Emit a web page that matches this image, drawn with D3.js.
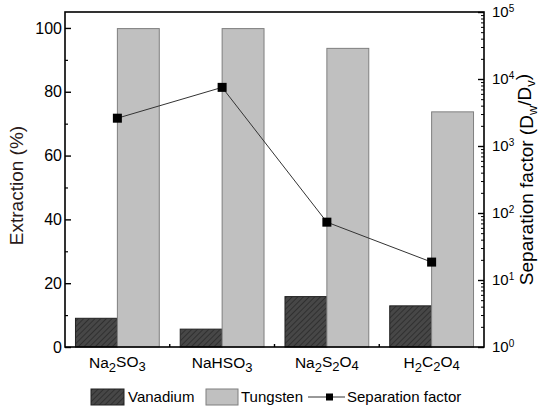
<!DOCTYPE html>
<html>
<head>
<meta charset="utf-8">
<script src="https://cdn.jsdelivr.net/npm/d3@7"></script>
<style>
  html, body { margin: 0; padding: 0; background: #fff; }
  svg { display: block; font-family: "Liberation Sans", Arial, sans-serif; }
</style>
</head>
<body>
<svg id="chart" width="542" height="409"></svg>
<script>
// Reagents (digits are drawn as subscripts)
const categories = ["Na2SO3", "NaHSO3", "Na2S2O4", "H2C2O4"];
const vanadium = [9.0, 5.6, 15.8, 12.9];        // extraction, %
const tungsten = [99.8, 99.8, 93.6, 73.7];      // extraction, %
const separation = [2600, 7500, 73, 18.5];      // D_w / D_v
const leftTicks = [0, 20, 40, 60, 80, 100];
const rightTicks = [1, 10, 100, 1000, 10000, 100000];

const svg = d3.select("#chart");
const m = { left: 65, right: 484, top: 12, bottom: 347 };

const x = d3.scaleBand().domain(categories).range([m.left, m.right]).paddingInner(0).paddingOuter(0);
const y = d3.scaleLinear().domain([0, 105]).range([m.bottom, m.top]);
const yr = d3.scaleLog().domain([1, 1e5]).range([m.bottom, m.top]);
const barW = x.bandwidth() * 0.4;

// hatch for vanadium bars
const defs = svg.append("defs");
const pat = defs.append("pattern").attr("id", "hatch").attr("patternUnits", "userSpaceOnUse")
  .attr("width", 4).attr("height", 4).attr("patternTransform", "rotate(45)");
pat.append("rect").attr("width", 4).attr("height", 4).attr("fill", "#474747");
pat.append("line").attr("x1", 0).attr("y1", 0).attr("x2", 0).attr("y2", 4)
  .attr("stroke", "#262626").attr("stroke-width", 1.4);

// Bars
const g = svg.append("g");
g.selectAll("rect.v").data(categories).join("rect").attr("class", "v")
  .attr("x", d => x(d) + x.bandwidth() / 2 - barW)
  .attr("y", (d, i) => y(vanadium[i]))
  .attr("width", barW)
  .attr("height", (d, i) => y(0) - y(vanadium[i]))
  .attr("fill", "url(#hatch)").attr("stroke", "#222").attr("stroke-width", 1);
g.selectAll("rect.w").data(categories).join("rect").attr("class", "w")
  .attr("x", d => x(d) + x.bandwidth() / 2)
  .attr("y", (d, i) => y(tungsten[i]))
  .attr("width", barW)
  .attr("height", (d, i) => y(0) - y(tungsten[i]))
  .attr("fill", "#c0c0c0").attr("stroke", "#7f7f7f").attr("stroke-width", 1);

// Separation factor line + markers
const line = d3.line().x(d => x(d[0]) + x.bandwidth() / 2).y(d => yr(d[1]));
const pts = categories.map((c, i) => [c, separation[i]]);
svg.append("path").datum(pts).attr("d", line).attr("fill", "none")
  .attr("stroke", "#333").attr("stroke-width", 1);
svg.selectAll("rect.p").data(pts).join("rect").attr("class", "p")
  .attr("x", d => x(d[0]) + x.bandwidth() / 2 - 4.5)
  .attr("y", d => yr(d[1]) - 4.5)
  .attr("width", 9).attr("height", 9).attr("fill", "#000");

// Frame
svg.append("rect").attr("x", m.left).attr("y", m.top)
  .attr("width", m.right - m.left).attr("height", m.bottom - m.top)
  .attr("fill", "none").attr("stroke", "#000").attr("stroke-width", 1.6);

// Left axis (ticks pointing inward)
svg.append("g").attr("transform", `translate(${m.left},0)`)
  .call(d3.axisRight(y).tickValues(leftTicks).tickSize(6).tickFormat(""))
  .call(s => s.select(".domain").remove())
  .call(s => s.selectAll("line").attr("stroke-width", 1.4));
svg.append("g").attr("transform", `translate(${m.left},0)`)
  .call(d3.axisRight(y).tickValues([10, 30, 50, 70, 90]).tickSize(3).tickFormat(""))
  .call(s => s.select(".domain").remove())
  .call(s => s.selectAll("line").attr("stroke-width", 1.2));
svg.append("g").selectAll("text").data(leftTicks).join("text")
  .attr("x", m.left - 3).attr("y", d => y(d)).attr("dy", "0.35em")
  .attr("text-anchor", "end").attr("font-size", 16).attr("fill", "#000")
  .text(d => d);

// Right log axis (ticks pointing inward)
const minor = [];
for (let e = 0; e < 5; e++) for (let k = 2; k <= 9; k++) minor.push(k * Math.pow(10, e));
svg.append("g").attr("transform", `translate(${m.right},0)`)
  .call(d3.axisLeft(yr).tickValues(rightTicks).tickSize(6).tickFormat(""))
  .call(s => s.select(".domain").remove())
  .call(s => s.selectAll("line").attr("stroke-width", 1.4));
svg.append("g").attr("transform", `translate(${m.right},0)`)
  .call(d3.axisLeft(yr).tickValues(minor).tickSize(3).tickFormat(""))
  .call(s => s.select(".domain").remove())
  .call(s => s.selectAll("line").attr("stroke-width", 1));
const rl = svg.append("g").selectAll("text").data(rightTicks).join("text")
  .attr("x", m.right + 8).attr("y", d => yr(d)).attr("dy", "0.35em")
  .attr("font-size", 15).attr("fill", "#000");
rl.append("tspan").text("10");
rl.append("tspan").attr("dy", "-0.5em").attr("font-size", 10).text(d => Math.round(Math.log10(d)));

// Bottom axis: small inward ticks at category boundaries
const bounds = categories.slice(1).map(c => x(c));
svg.append("g").selectAll("line").data(bounds).join("line")
  .attr("x1", d => d).attr("x2", d => d).attr("y1", m.bottom).attr("y2", m.bottom - 3)
  .attr("stroke", "#000").attr("stroke-width", 1.4);

// Category labels with subscripts
function chem(sel, label, subSize) {
  const parts = label.match(/[A-Za-z]+|\d+/g);
  parts.forEach(p => {
    if (/^\d+$/.test(p)) {
      sel.append("tspan").attr("font-size", subSize).attr("dy", "0.3em").text(p);
    } else {
      const t = sel.append("tspan").text(p);
      if (sel.selectAll("tspan").size() > 1) t.attr("dy", "-0.3em");
    }
  });
}
svg.append("g").selectAll("text").data(categories).join("text")
  .attr("x", d => x(d) + x.bandwidth() / 2).attr("y", 368)
  .attr("text-anchor", "middle").attr("font-size", 15.5).attr("fill", "#000")
  .each(function (d) { chem(d3.select(this), d, 13); });

// Axis titles
svg.append("text").attr("transform", `translate(23,${(m.top + m.bottom) / 2 + 6}) rotate(-90)`)
  .attr("text-anchor", "middle").attr("font-size", 19).attr("fill", "#2a1a1a")
  .text("Extraction (%)");
const rt = svg.append("text").attr("transform", `translate(533,${(m.top + m.bottom) / 2}) rotate(-90)`)
  .attr("text-anchor", "middle").attr("font-size", 19).attr("fill", "#000");
rt.append("tspan").text("Separation factor (D");
rt.append("tspan").attr("font-size", 13).attr("dy", "0.3em").text("w");
rt.append("tspan").attr("dy", "-0.3em").text("/D");
rt.append("tspan").attr("font-size", 13).attr("dy", "0.3em").text("v");
rt.append("tspan").attr("dy", "-0.3em").text(")");

// Legend
const lg = svg.append("g");
const ly = 397;
lg.append("rect").attr("x", 91).attr("y", ly - 8).attr("width", 33).attr("height", 16)
  .attr("fill", "url(#hatch)").attr("stroke", "#222");
lg.append("text").attr("x", 128).attr("y", ly).attr("dy", "0.35em").attr("font-size", 15).text("Vanadium");
lg.append("rect").attr("x", 206).attr("y", ly - 8).attr("width", 32).attr("height", 16)
  .attr("fill", "#c0c0c0").attr("stroke", "#7f7f7f");
lg.append("text").attr("x", 241).attr("y", ly).attr("dy", "0.35em").attr("font-size", 15).text("Tungsten");
lg.append("line").attr("x1", 308).attr("x2", 345).attr("y1", ly).attr("y2", ly)
  .attr("stroke", "#333").attr("stroke-width", 1);
lg.append("rect").attr("x", 326).attr("y", ly - 3.5).attr("width", 7).attr("height", 7).attr("fill", "#000");
lg.append("text").attr("x", 347).attr("y", ly).attr("dy", "0.35em").attr("font-size", 15).text("Separation factor");
</script>
</body>
</html>
